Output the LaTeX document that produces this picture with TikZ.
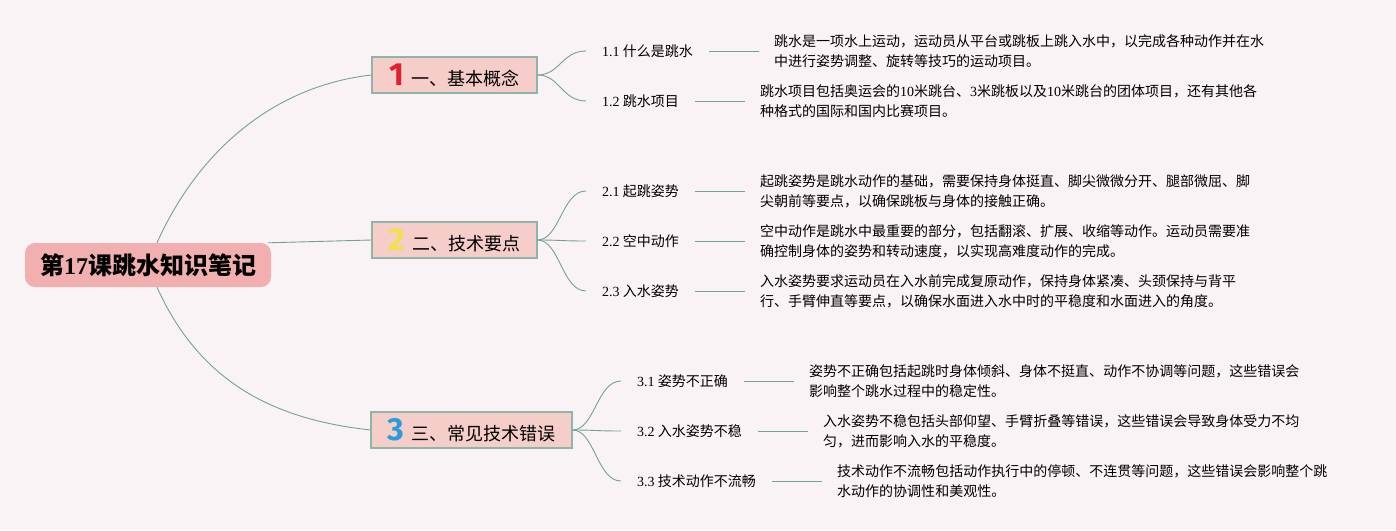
\documentclass[tikz,border=0pt]{standalone}
\usepackage{fontspec}
\setmainfont{Liberation Serif}
\newfontfamily\cjk{Noto Sans CJK SC}
\newfontfamily\numfont{Fira Sans}
\usetikzlibrary{positioning}
\definecolor{bgc}{HTML}{FAF3F5}
\definecolor{rootc}{HTML}{F1B0AF}
\definecolor{boxc}{HTML}{F5CDC9}
\definecolor{edgec}{HTML}{8FB5A8}
\definecolor{linec}{HTML}{74A197}
\definecolor{onec}{HTML}{E0202E}
\definecolor{twoc}{HTML}{F3E04A}
\definecolor{threec}{HTML}{2B9BDB}
\newcommand\lat[1]{{\rmfamily #1}}
\newcommand\bignum[2]{{\numfont\bfseries\fontsize{32}{32}\selectfont\color{#1}#2}\hspace{8pt}}
\tikzset{
  root/.style={fill=rootc,rounded corners=10pt,minimum width=246pt,minimum height=44pt,
    font=\cjk\bfseries\fontsize{24}{28}\selectfont},
  topic/.style={fill=boxc,draw=edgec,line width=1.2pt,minimum height=36pt,inner ysep=0pt,
    font=\cjk\fontsize{18}{20}\selectfont},
  lbl/.style={inner xsep=16pt,inner ysep=2pt,anchor=west,font=\cjk\fontsize{14}{17}\selectfont},
  desc/.style={inner xsep=15pt,inner ysep=2pt,align=left,font=\cjk\fontsize{14}{20}\selectfont},
  link/.style={draw=linec,line width=0.9pt}
}
\begin{document}
\begin{tikzpicture}[x=1pt,y=-1pt,node distance=50pt]
\fill[bgc] (0,0) rectangle (1396,530);
\useasboundingbox (0,0) rectangle (1396,530);
% main topic and first level
\node[root] (root) at (148,265) {第\lat{17}课跳水知识笔记};
\node[topic,minimum width=165pt] (b1) at (454.5,75) {\bignum{onec}{1}一、基本概念};
\node[topic,minimum width=165pt] (b2) at (454.5,240) {\bignum{twoc}{2}二、技术要点};
\node[topic,minimum width=201pt] (b3) at (471.5,430) {\bignum{threec}{3}三、常见技术错误};
\draw[link] ([xshift=9pt]root.north) .. controls +(45,-100) and +(-90,10) .. (b1.west);
\draw[link] ([xshift=-3pt]root.north east) -- (b2.west);
\draw[link] ([xshift=9pt]root.south) .. controls +(45,100) and +(-90,-10) .. (b3.west);
% subtopics
\node[lbl] (s11) at (586,51) {\lat{1.1} 什么是跳水};
\node[lbl] (s12) at (586,101) {\lat{1.2} 跳水项目};
\node[lbl] (s21) at (586,191) {\lat{2.1} 起跳姿势};
\node[lbl] (s22) at (586,241) {\lat{2.2} 空中动作};
\node[lbl] (s23) at (586,291) {\lat{2.3} 入水姿势};
\node[lbl] (s31) at (621,381) {\lat{3.1} 姿势不正确};
\node[lbl] (s32) at (621,431) {\lat{3.2} 入水姿势不稳};
\node[lbl] (s33) at (621,481) {\lat{3.3} 技术动作不流畅};
\foreach \b/\s in {b1/s11,b1/s12,b2/s21,b2/s22,b2/s23,b3/s31,b3/s32,b3/s33}
  \draw[link] (\b.east) .. controls +(22,0) and +(-24,0) .. (\s.west);
% notes
\node[desc,right=of s11] (d11) {跳水是一项水上运动，运动员从平台或跳板上跳入水中，以完成各种动作并在水\\中进行姿势调整、旋转等技巧的运动项目。};
\node[desc,right=of s12] (d12) {跳水项目包括奥运会的\lat{10}米跳台、\lat{3}米跳板以及\lat{10}米跳台的团体项目，还有其他各\\种格式的国际和国内比赛项目。};
\node[desc,right=of s21] (d21) {起跳姿势是跳水动作的基础，需要保持身体挺直、脚尖微微分开、腿部微屈、脚\\尖朝前等要点，以确保跳板与身体的接触正确。};
\node[desc,right=of s22] (d22) {空中动作是跳水中最重要的部分，包括翻滚、扩展、收缩等动作。运动员需要准\\确控制身体的姿势和转动速度，以实现高难度动作的完成。};
\node[desc,right=of s23] (d23) {入水姿势要求运动员在入水前完成复原动作，保持身体紧凑、头颈保持与背平\\行、手臂伸直等要点，以确保水面进入水中时的平稳度和水面进入的角度。};
\node[desc,right=of s31] (d31) {姿势不正确包括起跳时身体倾斜、身体不挺直、动作不协调等问题，这些错误会\\影响整个跳水过程中的稳定性。};
\node[desc,right=of s32] (d32) {入水姿势不稳包括头部仰望、手臂折叠等错误，这些错误会导致身体受力不均\\匀，进而影响入水的平稳度。};
\node[desc,right=of s33] (d33) {技术动作不流畅包括动作执行中的停顿、不连贯等问题，这些错误会影响整个跳\\水动作的协调性和美观性。};
\foreach \s/\d in {s11/d11,s12/d12,s21/d21,s22/d22,s23/d23,s31/d31,s32/d32,s33/d33}
  \draw[link] (\s) -- (\d);
\end{tikzpicture}
\end{document}
